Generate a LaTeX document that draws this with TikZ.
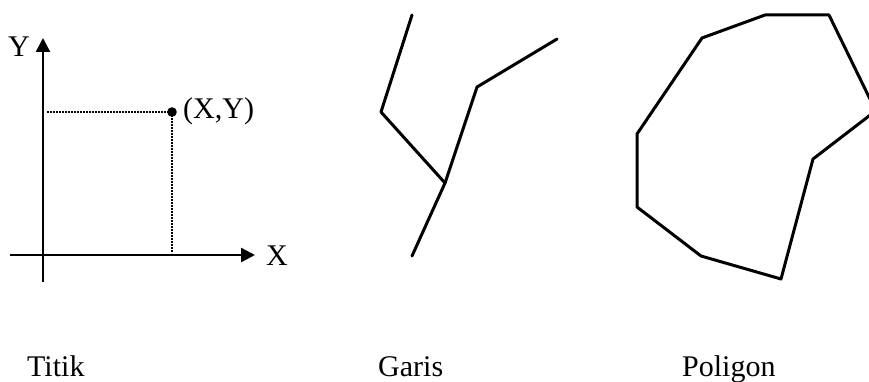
\documentclass[tikz,border=0pt]{standalone}
\usepackage{fontspec}
\setmainfont{Liberation Serif}
\usetikzlibrary{arrows.meta}
\begin{document}
\begin{tikzpicture}[x=1pt,y=-1pt,
  lbl/.style={inner sep=0pt,font=\fontsize{30}{36}\selectfont},
  axis/.style={line width=2.4pt},
  dotline/.style={line width=1.8pt,dash pattern=on 1.6pt off 1.4pt},
  solidline/.style={line width=3pt,line join=round,line cap=round}]
\useasboundingbox (0,0) rectangle (869,382);
\clip (0,0) rectangle (869,382);
% Titik
\coordinate (yb) at (43,282);
\coordinate (yt) at (43,38);
\coordinate (xl) at (10,255);
\coordinate (xr) at (255,255);
\draw[axis,-{Triangle[length=14pt,width=14pt]}] (yb) -- (yt);
\draw[axis,-{Triangle[length=14pt,width=14pt]}] (xl) -- (xr);
\node[lbl] (Ylab) at (19,47) {Y};
\node[lbl] (Xlab) at (277,256) {X};
\coordinate (p) at (172,112);
\coordinate (py) at (47,112);
\coordinate (px) at (172,253);
\draw[dotline] (py) -- (p);
\draw[dotline] (p) -- (px);
\fill (p) circle (4.8pt);
\node[lbl,anchor=west] (XY) at (183,111) {(X,Y)};
\node[lbl,anchor=base west] (titik) at (27,376) {Titik};
% Garis
\coordinate (g1) at (412,15);
\coordinate (g2) at (381,112);
\coordinate (g3) at (445,183);
\coordinate (g4) at (412,256);
\coordinate (g5) at (477,87);
\coordinate (g6) at (557,39);
\draw[solidline] (g1) -- (g2) -- (g3);
\draw[solidline] (g4) -- (g3) -- (g5) -- (g6);
\node[lbl,anchor=base west] (garis) at (378,376) {Garis};
% Poligon
\coordinate (q1) at (765,15);
\coordinate (q2) at (829,15);
\coordinate (q3) at (875.7,110.8);
\coordinate (q4) at (813,159);
\coordinate (q5) at (781,279);
\coordinate (q6) at (701,256);
\coordinate (q7) at (637,207);
\coordinate (q8) at (637,134);
\coordinate (q9) at (702,38);
\draw[solidline] (q1) -- (q2) -- (q3) -- (q4) -- (q5) -- (q6) -- (q7) -- (q8) -- (q9) -- cycle;
\node[lbl,anchor=base west] (poligon) at (682,376) {Poligon};
\end{tikzpicture}
\end{document}
